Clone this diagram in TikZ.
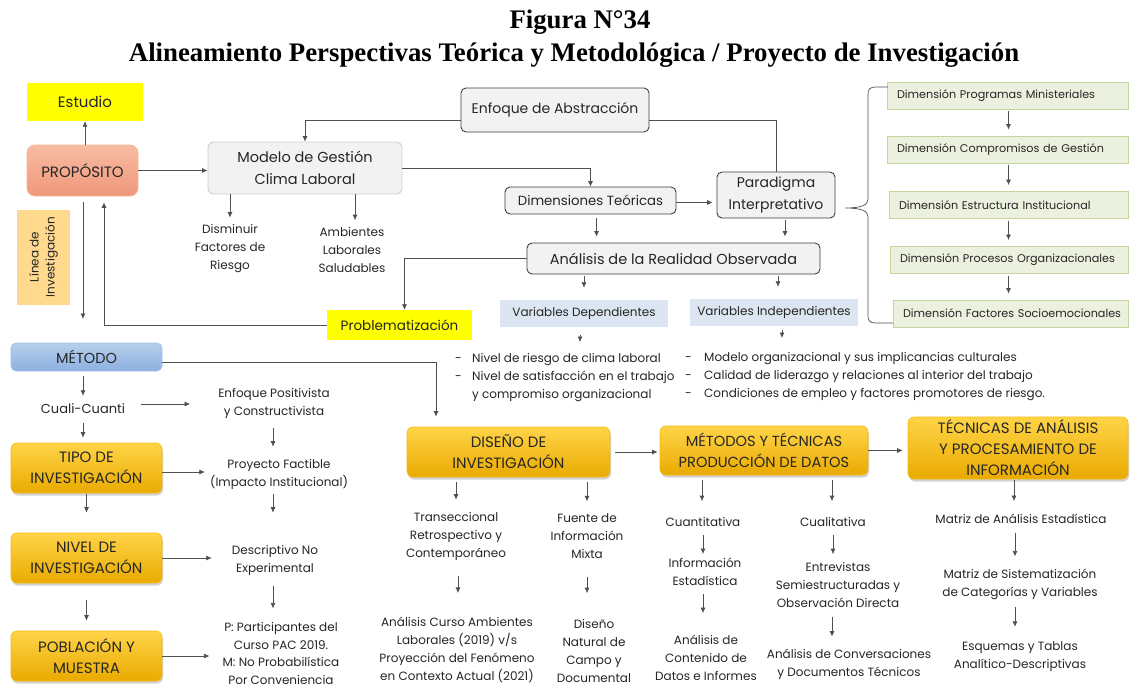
\documentclass[tikz,border=0pt]{standalone}
\usepackage{fontspec}
\setmainfont{Poppins}
\newfontfamily\titlefont{Liberation Serif}
\usetikzlibrary{arrows.meta,shadows,calc}

\newcommand\fsz[2]{\fontsize{#1}{#2}\selectfont}

\definecolor{txt}{HTML}{262626}
\definecolor{linec}{HTML}{505050}
\definecolor{greyfill}{HTML}{F2F2F2}
\definecolor{greyline}{HTML}{3F3F3F}
\definecolor{lightline}{HTML}{D0D0D0}
\definecolor{salT}{HTML}{F7BCA2}
\definecolor{salB}{HTML}{F0977A}
\definecolor{salD}{HTML}{F5B89C}
\definecolor{bluT}{HTML}{B6CEEC}
\definecolor{bluB}{HTML}{8DB1E0}
\definecolor{bluD}{HTML}{A3C0E6}
\definecolor{goldT}{HTML}{FFD448}
\definecolor{goldB}{HTML}{E9AA00}
\definecolor{goldD}{HTML}{F5BC10}
\definecolor{lineaC}{HTML}{FFD98E}
\definecolor{varC}{HTML}{DCE6F2}
\definecolor{greenF}{HTML}{EBF1DE}
\definecolor{greenD}{HTML}{C3D69B}
\definecolor{yel}{HTML}{FFFF00}

\begin{document}
\begin{tikzpicture}[x=1pt,y=-1pt,
  every node/.style={font=\fsz{12}{18}, text=txt, align=center, inner sep=0pt},
  arr/.style={draw=linec, line width=0.7pt, -{Latex[length=5.5pt,width=5pt]}},
  ln/.style={draw=linec, line width=0.7pt},
  gap/.style 2 args={shorten <=#1pt, shorten >=#2pt},
  yelbox/.style={fill=yel, font=\fsz{15}{17}},
  greybox/.style={rounded corners=5pt, fill=greyfill, draw=greyline, line width=0.9pt, font=\fsz{14}{22}},
  softbox/.style={rounded corners=6pt, fill=greyfill, draw=lightline, line width=0.9pt, font=\fsz{14.5}{22}},
  goldbox/.style={rounded corners=6pt, top color=goldT, bottom color=goldB, draw=goldD, line width=0.6pt,
    drop shadow={opacity=0.35, shadow xshift=1pt, shadow yshift=-2.5pt}, font=\fsz{15}{21}},
  varbox/.style={fill=varC, minimum width=168pt, minimum height=27pt, font=\fsz{12}{15}},
  greenbox/.style={fill=greenF, draw=greenD, line width=0.9pt, minimum height=27pt,
    inner xsep=10pt, align=left, font=\fsz{11.2}{15}},
  bullets/.style={align=left, anchor=north west, font=\fsz{12}{18}}
]
\fill[white] (0,0) rectangle (1130,688);
\useasboundingbox (0,0) rectangle (1130,688);

% heading
\node[font=\titlefont\bfseries\fsz{26.8}{31}, text=black] (title1) at (580,22) {Figura N°34};
\node[font=\titlefont\bfseries\fsz{26.8}{31}, text=black] (title2) at (574,55)
  {Alineamiento Perspectivas Teórica y Metodológica / Proyecto de Investigación};

% upper block
\node[yelbox, minimum width=116pt, minimum height=38pt] (estudio) at (85,102) {Estudio};
\node[rounded corners=8pt, top color=salT, bottom color=salB, draw=salD, line width=0.8pt,
  minimum width=111pt, minimum height=51pt, font=\fsz{15}{17}] (proposito) at (82.5,170.5) {PROPÓSITO};
\node[softbox, minimum width=194pt, minimum height=52pt] (modelo) at (305,168) {Modelo de Gestión\\Clima Laboral};
\node[greybox, minimum width=188pt, minimum height=44pt] (enfoque) at (555,110) {Enfoque de Abstracción};
\node[greybox, minimum width=171pt, minimum height=27pt, font=\fsz{13.3}{17}] (dimteo) at (590.5,200.5) {Dimensiones Teóricas};
\node[greybox, minimum width=118pt, minimum height=46pt] (paradigma) at (776,195) {Paradigma\\Interpretativo};
\node[greybox, minimum width=293pt, minimum height=31pt, font=\fsz{14.5}{17}] (analisis) at (673.5,258.5) {Análisis de la Realidad Observada};
\node (disminuir) at (230,249) {Disminuir\\Factores de\\Riesgo};
\node (ambientes) at (352,250) {Ambientes\\Laborales\\Saludables};
\node[varbox] (vardep) at (584,313.5) {Variables Dependientes};
\node[varbox] (varind) at (774,312.5) {Variables Independientes};
\node[yelbox, minimum width=145pt, minimum height=30pt, font=\fsz{13.5}{17}] (problem) at (399.5,325) {Problematización};
\node[bullets] (depList) at (455,353)
  {\makebox[17pt][l]{-}Nivel de riesgo de clima laboral\\
   \makebox[17pt][l]{-}Nivel de satisfacción en el trabajo\\
   \hspace*{17pt}y compromiso organizacional};
\node[bullets] (indList) at (685,352)
  {\makebox[19pt][l]{-}Modelo organizacional y sus implicancias culturales\\
   \makebox[19pt][l]{-}Calidad de liderazgo y relaciones al interior del trabajo\\
   \makebox[19pt][l]{-}Condiciones de empleo y factores promotores de riesgo.};

% dimension chain
\node[greenbox, minimum width=241pt, text width=221pt] (g1) at (1007.5,95.5) {\mbox{Dimensión Programas Ministeriales}};
\node[greenbox, minimum width=241pt, text width=221pt] (g2) at (1007.5,149.5) {\mbox{Dimensión Compromisos de Gestión}};
\node[greenbox, minimum width=239pt, text width=219pt] (g3) at (1008.5,205) {\mbox{Dimensión Estructura Institucional}};
\node[greenbox, minimum width=238pt, text width=218pt] (g4) at (1009,260) {\mbox{Dimensión Procesos Organizacionales}};
\node[greenbox, minimum width=235pt, text width=215pt] (g5) at (1010.5,313.5) {\mbox{Dimensión Factores Socioemocionales}};

% left column
\node[fill=lineaC, rotate=90, minimum width=95pt, minimum height=53pt, font=\fsz{12}{16}] (linea) at (43.5,257) {Línea de\\Investigación};
\coordinate (lineaEnd) at (83,319);
\node[rounded corners=5pt, top color=bluT, bottom color=bluB, draw=bluD, line width=0.6pt,
  minimum width=151pt, minimum height=28pt, font=\fsz{14.5}{17}] (metodo) at (86.5,357) {MÉTODO};
\node[font=\fsz{13}{18}] (cuali) at (83,409) {Cuali-Cuanti};
\node[goldbox, minimum width=151pt, minimum height=50pt] (tipo) at (86.5,468) {TIPO DE\\INVESTIGACIÓN};
\node[goldbox, minimum width=151pt, minimum height=50pt] (nivel) at (86.5,558) {NIVEL DE\\INVESTIGACIÓN};
\node[goldbox, minimum width=151pt, minimum height=50pt] (poblacion) at (86.5,656) {POBLACIÓN Y\\MUESTRA};
\node (enfpos) at (274,403) {Enfoque Positivista\\y Constructivista};
\node (proyecto) at (279,474) {Proyecto Factible\\(Impacto Institucional)};
\node (descriptivo) at (275,560) {Descriptivo No\\Experimental};
\node[font=\fsz{12}{17.5}] (particip) at (281,653.5) {P: Participantes del\\Curso PAC 2019.\\M: No Probabilística\\Por Conveniencia};

% lower stages
\node[goldbox, minimum width=203pt, minimum height=50pt] (diseno) at (508.5,452) {DISEÑO DE\\INVESTIGACIÓN};
\node[goldbox, minimum width=208pt, minimum height=49pt, font=\fsz{14.6}{21}] (metodos) at (764,450.5) {MÉTODOS Y TÉCNICAS\\PRODUCCIÓN DE DATOS};
\node[goldbox, minimum width=220pt, minimum height=62pt] (tecnicas) at (1018,448) {TÉCNICAS DE ANÁLISIS\\Y PROCESAMIENTO DE\\INFORMACIÓN};
\node (transecc) at (456,536) {Transeccional\\Retrospectivo y\\Contemporáneo};
\node (fuente) at (587,536) {Fuente de\\Información\\Mixta};
\node (analisisCurso) at (457,650) {Análisis Curso Ambientes\\Laborales (2019) v/s\\Proyección del Fenómeno\\en Contexto Actual (2021)};
\node (disenoNat) at (594,651) {Diseño\\Natural de\\Campo y\\Documental};
\node (cuantitativa) at (703,522) {Cuantitativa};
\node (cualitativa) at (833,522) {Cualitativa};
\node (infoEst) at (705,572) {Información\\Estadística};
\node (analisisCont) at (706,658) {Análisis de\\Contenido de\\Datos e Informes};
\node (entrevistas) at (838,585) {Entrevistas\\Semiestructuradas y\\Observación Directa};
\node (analisisConv) at (849,664) {Análisis de Conversaciones\\y Documentos Técnicos};
\node (matrizAE) at (1021,519) {Matriz de Análisis Estadística};
\node (matrizSC) at (1020,584) {Matriz de Sistematización\\de Categorías y Variables};
\node (esquemas) at (1020,657) {Esquemas y Tablas\\Analítico-Descriptivas};

% connectors, upper block
\draw[arr] (proposito.north -| estudio.south) -- (estudio.south);
\draw[arr] (proposito.east) -- (proposito.east -| modelo.west);
\draw[arr] ([yshift=-10pt]enfoque.west) -| (modelo.north);
\draw[ln] ([yshift=-10pt]enfoque.east) -| (paradigma.north);
\draw[arr] (modelo.east) -| (dimteo.north);
\draw[arr, gap={0}{4}] ([yshift=-2pt]dimteo.east) -- ([yshift=-2pt]dimteo.east -| paradigma.west);
\draw[arr, gap={4}{6}] ([xshift=6pt]dimteo.south) -- ([xshift=6pt]dimteo.south |- analisis.north);
\draw[arr, gap={2}{6}] ([xshift=9pt]paradigma.south) -- ([xshift=9pt]paradigma.south |- analisis.north);
\draw[arr, gap={2}{12}] (vardep.north |- analisis.south) -- (vardep.north);
\draw[arr, gap={2}{12}] ([xshift=4pt]varind.north |- analisis.south) -- ([xshift=4pt]varind.north);
\draw[arr] (analisis.west) -| ([xshift=5pt]problem.north);
\draw[arr, gap={0}{6}] (problem.west) -| ([xshift=21.5pt]proposito.south);
\draw[arr, gap={6}{0}] (lineaEnd |- proposito.south) -- (lineaEnd);
\draw[arr, gap={0}{7}] (disminuir.north |- modelo.south) -- (disminuir.north);
\draw[arr, gap={0}{7}] ([xshift=3pt]ambientes.north |- modelo.south) -- ([xshift=3pt]ambientes.north);
\draw[arr, gap={8}{11}] ([xshift=-4pt]vardep.south) -- ([xshift=-4pt]vardep.south |- depList.north);
\draw[arr, gap={4}{14}] ([xshift=8pt]varind.south) -- ([xshift=8pt]varind.south |- indList.north);

% dimension chain connectors
\draw[arr, gap={2}{6}] (g1.south -| g3.south) -- (g2.north -| g3.south);
\draw[arr, gap={2}{6}] (g2.south -| g3.south) -- (g3.north);
\draw[arr, gap={2}{6}] (g3.south) -- (g4.north -| g3.south);
\draw[arr, gap={2}{6}] (g4.south -| g3.south) -- (g5.north -| g3.south);

% brace gathering the dimensions
\draw[ln] (888,87) -- (876,87) .. controls (870,87) and (868,89) .. (868,95) -- (868,199)
  .. controls (868,205) and (862,208) .. (845,208)
  .. controls (862,208) and (868,211) .. (868,217) -- (868,316)
  .. controls (868,321) and (870,323) .. (876,323) -- (893,323);

% connectors, method column
\draw[arr] ([yshift=-5pt]metodo.east) -| ([xshift=-72.5pt, yshift=10pt]diseno.north);
\draw[arr, gap={5}{8}] (metodo.south -| cuali.north) -- (cuali.north);
\draw[arr, gap={9}{5}] (cuali.south) -- (cuali.south |- tipo.north);
\draw[arr, gap={16}{28}] ([yshift=5pt]cuali.east) -- ([yshift=5pt]cuali.east -| enfpos.west);
\draw[arr, gap={10}{12}] ([xshift=-1pt]enfpos.south) -- ([xshift=-1pt]enfpos.south |- proyecto.north);
\draw[arr, gap={0}{5}] ([yshift=-4pt]tipo.east) -- ([yshift=-4pt]tipo.east -| proyecto.west);
\draw[arr, gap={5}{32}] ([xshift=-6pt]proyecto.south) -- ([xshift=-6pt]proyecto.south |- descriptivo.north);
\draw[arr, gap={1}{20}] (tipo.south) -- (tipo.south |- nivel.north);
\draw[arr, gap={0}{20}] (nivel.east) -- (nivel.east -| descriptivo.west);
\draw[arr, gap={11}{14}] ([xshift=-2pt]descriptivo.south) -- ([xshift=-2pt]descriptivo.south |- particip.north);
\draw[arr, gap={17}{10}] (nivel.south) -- (nivel.south |- poblacion.north);
\draw[arr, gap={0}{13}] (poblacion.east) -- (poblacion.east -| particip.west);

% connectors, lower stages
\draw[arr, gap={5}{2}] (diseno.east) -- (diseno.east -| metodos.west);
\draw[arr, gap={0}{5}] (metodos.east) -- (metodos.east -| tecnicas.west);
\draw[arr, gap={5}{12}] (transecc.north |- diseno.south) -- (transecc.north);
\draw[arr, gap={5}{12}] (fuente.north |- diseno.south) -- (fuente.north);
\draw[arr, gap={16}{24}] ([xshift=2pt]transecc.south) -- ([xshift=2pt]transecc.south |- analisisCurso.north);
\draw[arr, gap={18}{26}] (fuente.south) -- (fuente.south |- disenoNat.north);
\draw[arr, gap={5}{16}] ([xshift=-1pt]cuantitativa.north |- metodos.south) -- ([xshift=-1pt]cuantitativa.north);
\draw[arr, gap={5}{16}] ([xshift=-1pt]cualitativa.north |- metodos.south) -- ([xshift=-1pt]cualitativa.north);
\draw[arr, gap={8}{4}] (cuantitativa.south) -- (cuantitativa.south |- infoEst.north);
\draw[arr, gap={8}{22}] ([xshift=-2pt]infoEst.south) -- ([xshift=-2pt]infoEst.south |- analisisCont.north);
\draw[arr, gap={8}{8}] (cualitativa.south) -- (cualitativa.south |- entrevistas.north);
\draw[arr, gap={9}{12}] ([xshift=-6pt]entrevistas.south) -- ([xshift=-6pt]entrevistas.south |- analisisConv.north);
\draw[arr, gap={1}{13}] ([xshift=-7pt]matrizAE.north |- tecnicas.south) -- ([xshift=-7pt]matrizAE.north);
\draw[arr, gap={9}{12}] ([xshift=-6pt]matrizAE.south) -- ([xshift=-6pt]matrizAE.south |- matrizSC.north);
\draw[arr, gap={7}{15}] ([xshift=-5pt]matrizSC.south) -- ([xshift=-5pt]matrizSC.south |- esquemas.north);
\end{tikzpicture}
\end{document}
